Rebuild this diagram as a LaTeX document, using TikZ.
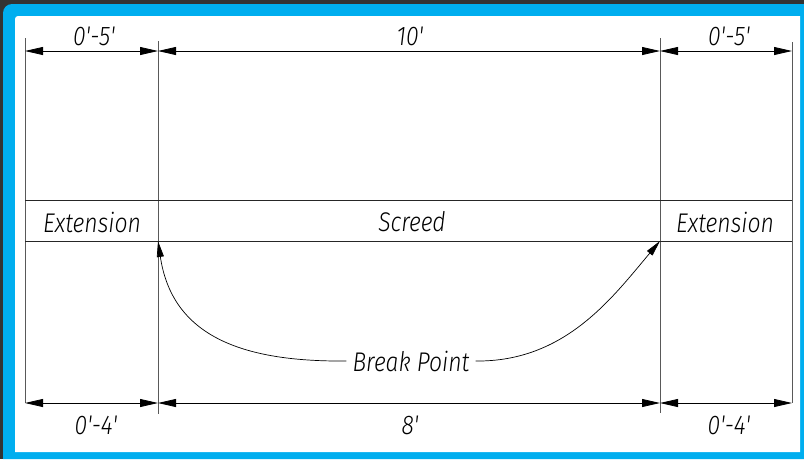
\documentclass[tikz,border=0pt]{standalone}
\usepackage{fontspec}
\usepackage{graphicx}
\newfontfamily\isofont{Fira Sans}[UprightFont=* Light, ItalicFont=* Light Italic]
\usetikzlibrary{arrows.meta}
\definecolor{frameblue}{HTML}{00AEEF}
\definecolor{darkedge}{HTML}{333333}
\tikzset{
  dimline/.style={arrows={Triangle[length=18pt,width=8pt]-Triangle[length=18pt,width=8pt]},line width=.8pt},
  extline/.style={black!65,line width=.7pt},
  rowline/.style={black!85,line width=.8pt},
  lbl/.style={font=\fontsize{27}{27}\selectfont\isofont\itshape,inner sep=0pt},
  leader/.style={arrows={-Triangle[length=16pt,width=7pt]},line width=.7pt}
}
\newcommand{\ft}{\textquotesingle}
\newcommand{\narrow}[1]{\scalebox{.85}[1]{#1}}
\begin{document}
\begin{tikzpicture}[x=1pt,y=-1pt]
% frame
\fill[darkedge] (0,0) rectangle (804,459);
\fill[frameblue] (804,459) -- (3,459) [rounded corners=9pt] -- (3,4) [sharp corners] -- (804,4) -- cycle;
\fill[white] (800,452) -- (15,452) [rounded corners=3pt] -- (15,16) [sharp corners] -- (800,16) -- cycle;
% points on the extension lines
\coordinate (a1) at (25,51);  \coordinate (a3) at (25,403);
\coordinate (b1) at (158,51); \coordinate (b2) at (158,241); \coordinate (b3) at (158,403);
\coordinate (c1) at (660,51); \coordinate (c2) at (660,241); \coordinate (c3) at (660,403);
\coordinate (d1) at (792,51); \coordinate (d3) at (792,403);
% extension lines
\draw[extline] (25,38) -- (a3);
\draw[extline] (158,41) -- (158,414);
\draw[extline] (660,38) -- (660,413);
\draw[extline] (792,42) -- (d3);
% screed strip
\draw[rowline] (25,200) -- (792,200);
\draw[rowline] (25,241) -- (792,241);
% dimensions
\draw[dimline] (a1) -- (b1);
\draw[dimline] (b1) -- (c1);
\draw[dimline] (c1) -- (d1);
\draw[dimline] (a3) -- (b3);
\draw[dimline] (b3) -- (c3);
\draw[dimline] (c3) -- (d3);
\node[lbl] (top1) at (94,36) {\narrow{0\ft-5\ft}};
\node[lbl] (top2) at (410,36) {\narrow{10\ft}};
\node[lbl] (top3) at (729,36) {\narrow{0\ft-5\ft}};
\node[lbl] (bot1) at (96,425) {\narrow{0\ft-4\ft}};
\node[lbl] (bot2) at (410,425) {\narrow{8\ft}};
\node[lbl] (bot3) at (729,425) {\narrow{0\ft-4\ft}};
% parts
\node[lbl] (ext1) at (92,222) {\narrow{Extension}};
\node[lbl] (scr) at (412,222) {\narrow{Screed}};
\node[lbl] (ext2) at (725,222) {\narrow{Extension}};
% break points
\node[lbl,inner xsep=6pt] (bp) at (411,361) {\narrow{Break Point}};
\draw[leader] (bp.west) .. controls (240,362) and (172,335) .. (b2);
\draw[leader] (bp.east) .. controls (565,362) and (612,298) .. (c2);
\end{tikzpicture}
\end{document}
